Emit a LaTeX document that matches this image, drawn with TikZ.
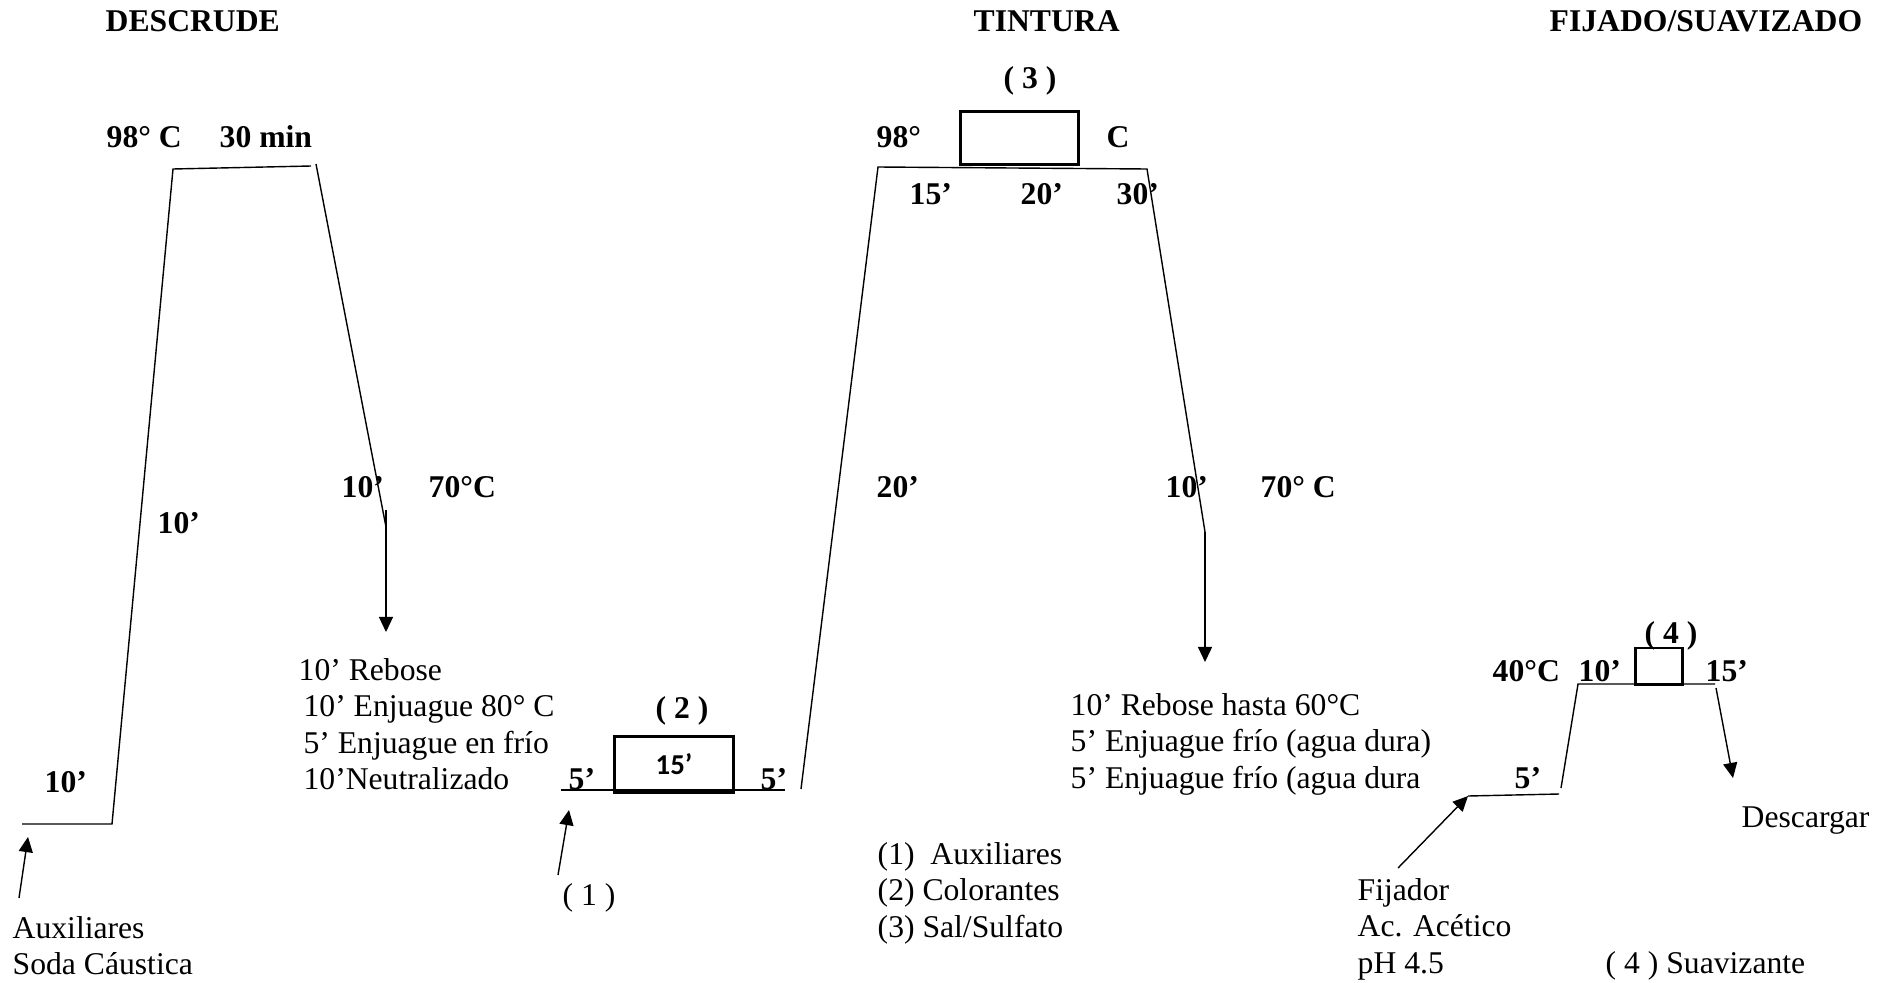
\documentclass[tikz,border=0pt]{standalone}
\usepackage{fontspec}
\setmainfont{Liberation Serif}
\newfontfamily\boxfont{Carlito}
\usepackage{tikz}
\usetikzlibrary{arrows.meta, positioning, calc}

\begin{document}
\begin{tikzpicture}[
        x=0.01cm, y=-0.01cm,
        lbl/.style={
            anchor=base west,
            inner sep=0pt,
            font=\fontsize{9pt}{10.3pt}\selectfont\bfseries
        },
        txt/.style={
            anchor=north west,
            inner sep=0pt,
            align=left,
            font=\fontsize{9pt}{10.3pt}\selectfont
        },
        ramp/.style={
            line width=0.4pt,
            black
        },
        tank/.style={
            rectangle,
            draw,
            line width=0.85pt,
            inner sep=0pt
        },
        feed/.style={
            -{Triangle[length=4.3pt, width=4pt]},
            line width=0.4pt
        }
    ]
    \useasboundingbox (0,0) rectangle (1892,982);

    % Titles
    \node[lbl] (t_descrude) at (105,32) {DESCRUDE};
    \node[lbl] (t_tintura) at (973,32) {TINTURA};
    \node[lbl] (t_fijado) at (1549,32) {FIJADO/SUAVIZADO};

    % Descrude curve
    \coordinate (d_start) at (22,824);
    \coordinate (d_heat) at (112,824);
    \coordinate (d_top) at (173,169);
    \coordinate (d_hold) at (311,166);
    \coordinate (d_cool) at (316,164);
    \coordinate (d_rinse) at (386,527);
    \coordinate (d_drop) at (386,510);
    \coordinate (d_out) at (386,632);
    \coordinate (d_feed) at (19,898);
    \coordinate (d_in) at (28,837);
    \draw[ramp] (d_start) -- (d_heat) -- (d_top) -- (d_hold);
    \draw[ramp] (d_cool) -- (d_rinse);
    \draw[feed] (d_drop) -- (d_out);
    \draw[feed] (d_feed) -- (d_in);

    \node[lbl] (d_temp) at (106,148) {98° C};
    \node[lbl] (d_time) at (219,148) {30 min};
    \node[lbl] (d_rise) at (157,533) {10’};
    \node[lbl] (d_fall) at (341,497) {10’};
    \node[lbl] (d_end) at (428,497) {70°C};
    \node[lbl] (d_wait) at (44,792) {10’};
    \node[txt] (d_aux) at (12,916) {Auxiliares \\ Soda Cáustica};
    \node[txt] (d_wash) at (298,658) {10’ Rebose \\ \hspace*{1.4pt}10’ Enjuague 80° C \\
        \hspace*{1.4pt}5’ Enjuague en frío \\ \hspace*{1.4pt}10’Neutralizado};

    % Tintura curve
    \coordinate (t_start) at (561,790);
    \coordinate (t_heat) at (801,789);
    \coordinate (t_top) at (878,167);
    \coordinate (t_hold) at (1147,169);
    \coordinate (t_rinse) at (1205,532);
    \coordinate (t_out) at (1205,662);
    \coordinate (t_feed) at (558,875);
    \coordinate (t_in) at (569,810);
    \draw[ramp] (t_start) -- (785,790);
    \draw[ramp] (t_heat) -- (t_top) -- (t_hold) -- (t_rinse);
    \draw[feed] (t_rinse) -- (t_out);
    \draw[feed] (t_feed) -- (t_in);

    \node[tank, minimum width=1.18cm, minimum height=0.555cm] (box_dye) at (674,764.5)
        {\boxfont\fontsize{8.2pt}{9pt}\selectfont\bfseries 15’};
    \node[tank, minimum width=1.18cm, minimum height=0.52cm] (box_salt) at (1019.5,138) {};
    \node[lbl] (t_two) at (655,718) {( 2 )};
    \node[lbl] (t_three) at (1003,89) {( 3 )};
    \node[lbl] (t_pre) at (568,789) {5’};
    \node[lbl] (t_post) at (760,789) {5’};
    \node[lbl, font=\fontsize{9pt}{10.3pt}\selectfont] (t_one) at (562,905) {( 1 )};
    \node[lbl] (t_temp) at (876,147) {98°};
    \node[lbl] (t_unit) at (1106,147) {C};
    \node[lbl] (t_h1) at (909,204) {15’};
    \node[lbl] (t_h2) at (1020,204) {20’};
    \node[lbl] (t_h3) at (1116,204) {30’};
    \node[lbl] (t_rise) at (876,497) {20’};
    \node[lbl] (t_fall) at (1165,497) {10’};
    \node[lbl] (t_end) at (1260,497) {70° C};
    \node[txt] (t_wash) at (1070,693) {10’ Rebose hasta 60°C \\ 5’ Enjuague frío (agua dura) \\
        5’ Enjuague frío (agua dura};
    \node[txt] (t_legend) at (877,842) {(1)\ \ Auxiliares \\ (2) Colorantes \\ (3) Sal/Sulfato};

    % Fijado / suavizado curve
    \coordinate (f_start) at (1468,796);
    \coordinate (f_heat) at (1559,794);
    \coordinate (f_low) at (1561,788);
    \coordinate (f_top) at (1578,684);
    \coordinate (f_hold) at (1715,684);
    \coordinate (f_drop) at (1716,688);
    \coordinate (f_out) at (1733,778);
    \coordinate (f_feed) at (1398,868);
    \draw[ramp] (f_start) -- (f_heat);
    \draw[ramp] (f_low) -- (f_top) -- (f_hold);
    \draw[feed] (f_drop) -- (f_out);
    \draw[feed] (f_feed) -- (f_start);

    \node[tank, minimum width=0.47cm, minimum height=0.36cm] (box_soft) at (1659,666) {};
    \node[lbl] (f_four) at (1644,643) {( 4 )};
    \node[lbl] (f_temp) at (1492,681) {40°C};
    \node[lbl] (f_h1) at (1578,681) {10’};
    \node[lbl] (f_h2) at (1705,681) {15’};
    \node[lbl] (f_pre) at (1514,788) {5’};
    \node[lbl, font=\fontsize{9pt}{10.3pt}\selectfont] (f_unload) at (1741,827) {Descargar};
    \node[txt] (f_fix) at (1357,878) {Fijador \\ Ac. Acético \\ pH 4.5};
    \node[lbl, font=\fontsize{9pt}{10.3pt}\selectfont] (f_soft) at (1605,973) {( 4 ) Suavizante};

\end{tikzpicture}
\end{document}
